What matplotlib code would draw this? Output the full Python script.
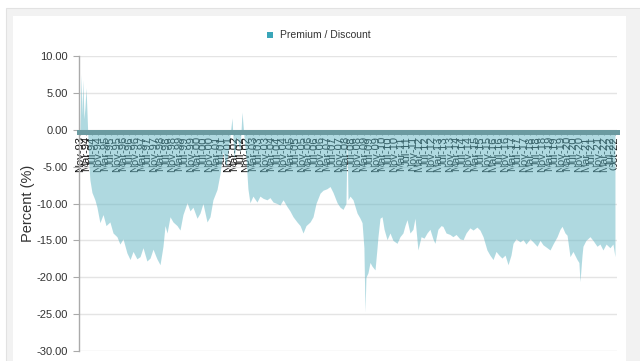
import matplotlib
matplotlib.use("Agg")
import matplotlib.pyplot as plt
from matplotlib.patches import Rectangle
import pandas as pd

plt.rcParams['font.family'] = ['Liberation Sans', 'DejaVu Sans']

# ---- data ----
years = [1993.83, 1993.89, 1993.94, 1993.99, 1994.05, 1994.10, 1994.16, 1994.21, 1994.26, 1994.32,
         1994.37, 1994.48, 1994.64, 1994.75, 1994.91, 1995.08, 1995.24, 1995.45, 1995.62, 1995.83,
         1995.99, 1996.16, 1996.37, 1996.54, 1996.70, 1996.91, 1997.08, 1997.24, 1997.45, 1997.62,
         1997.78, 1997.99, 1998.16, 1998.32, 1998.43, 1998.54, 1998.70, 1998.86, 1999.08, 1999.24,
         1999.40, 1999.62, 1999.78, 1999.94, 2000.16, 2000.32, 2000.48, 2000.70, 2000.86, 2001.02,
         2001.24, 2001.40, 2001.56, 2001.73, 2001.89, 2002.05, 2002.16, 2002.32, 2002.48, 2002.59,
         2002.70, 2002.81, 2002.91, 2003.02, 2003.18, 2003.40, 2003.56, 2003.73, 2003.94, 2004.10,
         2004.27, 2004.48, 2004.64, 2004.81, 2005.02, 2005.18, 2005.35, 2005.56, 2005.73, 2005.89,
         2006.05, 2006.27, 2006.43, 2006.59, 2006.81, 2006.97, 2007.18, 2007.35, 2007.51, 2007.73,
         2007.89, 2008.05, 2008.21, 2008.27, 2008.32, 2008.43, 2008.59, 2008.81, 2008.97, 2009.08,
         2009.18, 2009.24, 2009.29, 2009.40, 2009.51, 2009.62, 2009.78, 2009.89, 2009.94, 2010.05,
         2010.16, 2010.27, 2010.43, 2010.59, 2010.75, 2010.97, 2011.13, 2011.29, 2011.40, 2011.51,
         2011.67, 2011.83, 2011.94, 2012.10, 2012.27, 2012.43, 2012.59, 2012.75, 2012.91, 2013.02,
         2013.18, 2013.35, 2013.45, 2013.62, 2013.83, 2013.99, 2014.16, 2014.37, 2014.54, 2014.70,
         2014.91, 2015.08, 2015.29, 2015.45, 2015.62, 2015.83, 2015.99, 2016.16, 2016.32, 2016.48,
         2016.64, 2016.81, 2016.97, 2017.13, 2017.24, 2017.40, 2017.62, 2017.78, 2017.94, 2018.16,
         2018.32, 2018.54, 2018.70, 2018.86, 2019.08, 2019.24, 2019.40, 2019.62, 2019.78, 2019.89,
         2020.05, 2020.16, 2020.32, 2020.48, 2020.70, 2020.80, 2020.86, 2020.97, 2021.02, 2021.18,
         2021.40, 2021.56, 2021.78, 2021.94, 2022.10, 2022.27, 2022.48, 2022.64, 2022.75]

premium_discount = [0.0, 7.5, 2.0, 6.8, 1.5, 3.0, 5.7, 2.5, -1.0, -5.0,
                    -6.8, -8.5, -9.5, -10.5, -12.6, -11.5, -13.0, -12.5, -14.0, -14.5,
                    -15.5, -14.8, -16.7, -17.6, -16.5, -17.5, -17.2, -16.0, -17.8, -17.4,
                    -16.2, -17.5, -18.3, -15.8, -13.0, -14.0, -11.8, -12.5, -13.0, -13.6,
                    -11.5, -9.9, -11.0, -10.5, -12.0, -11.3, -10.0, -12.5, -11.8, -9.5,
                    -8.1, -6.0, -3.0, -5.0, -2.0, 1.6, -4.0, -1.0, -3.0, 2.4,
                    -1.0, -4.0, -8.0, -9.9, -9.0, -9.8, -9.0, -9.3, -9.5, -9.2,
                    -9.8, -10.0, -10.2, -9.5, -10.4, -11.0, -11.8, -12.5, -13.0, -14.0,
                    -13.0, -12.5, -11.8, -10.0, -8.6, -8.2, -8.0, -7.7, -8.5, -9.9,
                    -10.5, -10.8, -10.0, -1.0, -9.5, -9.0, -9.5, -11.3, -12.0, -12.6,
                    -16.0, -24.7, -20.0, -19.4, -18.0, -18.5, -19.0, -16.0, -14.5, -12.0,
                    -11.8, -13.5, -14.9, -14.0, -15.0, -15.4, -14.5, -14.0, -13.0, -12.2,
                    -14.0, -13.5, -12.0, -16.3, -14.5, -14.7, -14.0, -13.5, -14.8, -15.4,
                    -13.5, -13.0, -13.1, -14.0, -14.2, -14.5, -14.2, -14.8, -14.9, -14.0,
                    -13.3, -13.6, -13.2, -13.6, -14.5, -16.3, -17.0, -17.6, -16.5, -17.0,
                    -17.4, -17.0, -18.3, -17.0, -15.4, -14.8, -15.2, -14.9, -15.5, -14.8,
                    -15.2, -15.8, -15.0, -15.6, -16.0, -16.3, -15.5, -14.5, -13.5, -13.1,
                    -14.0, -14.3, -17.2, -16.5, -17.6, -18.0, -20.6, -17.0, -15.8, -15.0,
                    -14.5, -15.0, -15.8, -15.5, -16.3, -15.5, -16.0, -15.5, -17.2]

tick_labels = ['Nov-93']
for yy in ['94', '95', '96', '97', '98', '99', '00', '01', '02', '03', '04', '05', '06', '07',
           '08', '09', '10', '11', '12', '13', '14', '15', '16', '17', '18', '19', '20', '21']:
    tick_labels += ['Mar-' + yy, 'Jul-' + yy, 'Nov-' + yy]
tick_labels += ['Mar-22', 'Jul-22', 'Oct-22']

y_ticks = [-30, -25, -20, -15, -10, -5, 0, 5, 10]
series_name = 'Premium / Discount'
y_title = 'Percent (%)'

# ---- figure ----
W, H = 640, 361
fig = plt.figure(figsize=(W / 100, H / 100), dpi=100)
fig.patch.set_facecolor('white')


def px_rect(x0, ytop, w, h, **kw):
    return Rectangle((x0 / W, (H - ytop - h) / H), w / W, h / H,
                     transform=fig.transFigure, **kw)


fig.patches.append(px_rect(6, 8, 640, 353, facecolor='#f2f2f2', edgecolor='#e2e2e2',
                           lw=0.8, zorder=-20))
fig.patches.append(px_rect(13, 16, 613, 345, facecolor='white', edgecolor='none', zorder=-19))

ax = fig.add_axes([79 / W, (H - 351) / H, (617 - 79) / W, (351 - 56) / H])
ax.set_facecolor('none')
ax.set_zorder(5)

ax.fill_between(years, premium_discount, 0, color='#61b5c3', alpha=0.5, lw=0, zorder=2)

for s in ['top', 'right']:
    ax.spines[s].set_visible(False)
ax.spines['left'].set_color('#aaaaaa')
ax.spines['left'].set_linewidth(1)
ax.spines['bottom'].set_position(('data', -0.3))
ax.spines['bottom'].set_color('#6b9aa0')
ax.spines['bottom'].set_linewidth(3.6)
ax.spines['bottom'].set_zorder(3)

ax.set_ylim(-30, 10)
ax.set_xlim(1993.78, 2022.86)
ax.set_yticks(y_ticks)
ax.set_yticklabels([f'{v:.2f}' for v in y_ticks])
ax.yaxis.grid(True, color='#e4e4e4', lw=1, zorder=0)
ax.set_axisbelow(True)

tick_pos = []
for lab in tick_labels:
    d = pd.to_datetime(lab, format='%b-%y')
    tick_pos.append(d.year + (d.month - 1) / 12)
ax.set_xticks(tick_pos)
ax.set_xticklabels(tick_labels)

ax.tick_params(axis='y', direction='out', length=4, color='#aaaaaa', labelsize=8,
               labelcolor='#333333', pad=4)
ax.tick_params(axis='x', direction='out', length=2, color='#999999', pad=1,
               labelrotation=90, labelsize=8, labelcolor='#111111')

ax.set_ylabel(y_title, fontsize=10.5, color='#333333')
ax.yaxis.set_label_coords(-0.082, 0.5)

# legend
fig.patches.append(px_rect(267, 32, 6, 6, facecolor='#3aa6b9', edgecolor='none', zorder=10))
fig.text(280 / W, (H - 35) / H, series_name, fontsize=7.5, color='#333333',
         ha='left', va='center')

fig.savefig('out.png', dpi=100)
